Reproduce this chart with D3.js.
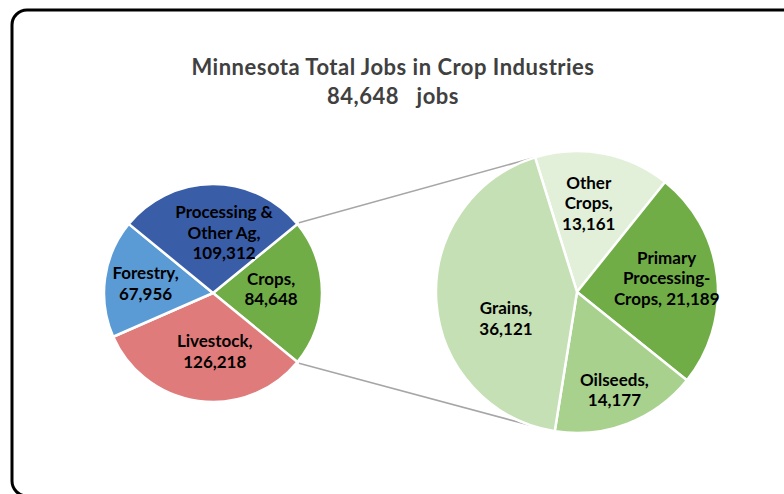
<!DOCTYPE html>
<html>
<head>
<meta charset="utf-8">
<script src="https://cdn.jsdelivr.net/npm/d3@7/dist/d3.min.js"></script>
<style>
  html, body { margin: 0; padding: 0; background: #fff; }
  svg { display: block; }
  text { font-family: Lato, "Open Sans", sans-serif; }
</style>
</head>
<body>
<svg id="chart" width="784" height="494"></svg>
<script>
// ---- Data ----
const titleLine1 = "Minnesota Total Jobs in Crop Industries";
const titleLine2 = "84,648   jobs";

// main pie, clockwise from the "Crops" slice
const mainCategories = ["Crops", "Livestock", "Forestry", "Processing & Other Ag"];
const mainValues = [84648, 126218, 67956, 109312];
const mainColors = ["#70AD47", "#E07B7B", "#5B9BD5", "#3A5DA8"];
const mainLabelNames = ["Crops", "Livestock", "Forestry", "Processing &|Other Ag"];

// secondary pie (breakdown of Crops), clockwise
const subCategories = ["Other Crops", "Primary Processing-Crops", "Oilseeds", "Grains"];
const subValues = [13161, 21189, 14177, 36121];
const subColors = ["#E2F0D9", "#70AD47", "#A9D18E", "#C5E0B4"];
const subLabelNames = ["Other|Crops", "Primary|Processing-|Crops", "Oilseeds", "Grains"];
const subValueInline = [false, true, false, false];

// ---- Layout (label nudges from the slice centroid, px) ----
const mainLabelNudge = [[-3, -4], [10, -2], [-7, -1], [11, 1]];
const subLabelNudge = [[-5, 0], [0, -4], [5, 14], [19, 20]];

const svg = d3.select("#chart");
const fmt = d3.format(",");
const rad = d => d * Math.PI / 180;

svg.append("rect")
  .attr("x", 12).attr("y", 10)
  .attr("width", 800).attr("height", 486)
  .attr("rx", 15).attr("ry", 15)
  .attr("fill", "#fff").attr("stroke", "#000").attr("stroke-width", 3);

[[titleLine1, 75], [titleLine2, 104]].forEach(([s, y]) => {
  svg.append("text").attr("x", 393).attr("y", y)
    .attr("text-anchor", "middle").attr("font-size", 22).attr("font-weight", "bold")
    .attr("letter-spacing", 0.5)
    .attr("fill", "#404040").style("white-space", "pre")
    .text(s);
});

const c1 = { x: 213, y: 293, r: 109 };
const c2 = { x: 577, y: 292, r: 141 };

const mainTotal = d3.sum(mainValues);
const cropsSpan = mainValues[0] / mainTotal * 2 * Math.PI;
const mainStart = Math.PI / 2 - cropsSpan / 2;
const mainPie = d3.pie().sort(null).value(d => d.v)
  .startAngle(mainStart).endAngle(mainStart + 2 * Math.PI);
const mainArcs = mainPie(mainValues.map((v, i) => ({ v, i })));

const subStart = rad(-17.3);
const subPie = d3.pie().sort(null).value(d => d.v)
  .startAngle(subStart).endAngle(subStart + 2 * Math.PI);
const subArcs = subPie(subValues.map((v, i) => ({ v, i })));

// connector lines
const pt = (c, a, r) => [c.x + r * Math.sin(a), c.y - r * Math.cos(a)];
const cropArc = mainArcs[0];
const conn = [
  [pt(c1, cropArc.startAngle, c1.r + 2), pt(c2, subStart, c2.r)],
  [pt(c1, cropArc.endAngle, c1.r + 2), pt(c2, Math.PI - subStart, c2.r)]
];
svg.append("g").selectAll("line").data(conn).join("line")
  .attr("x1", d => d[0][0]).attr("y1", d => d[0][1])
  .attr("x2", d => d[1][0]).attr("y2", d => d[1][1])
  .attr("stroke", "#A6A6A6").attr("stroke-width", 1.5);

function drawPie(c, arcs, colors, names, valueInline, labelRatio, nudge) {
  const arc = d3.arc().innerRadius(0).outerRadius(c.r);
  const g = svg.append("g").attr("transform", `translate(${c.x},${c.y})`);
  g.selectAll("path").data(arcs).join("path")
    .attr("d", arc)
    .attr("fill", d => colors[d.data.i])
    .attr("stroke", "#fff").attr("stroke-width", 2.5).attr("stroke-linejoin", "round");
  const lab = d3.arc().innerRadius(c.r * labelRatio).outerRadius(c.r * labelRatio);
  const lh = 20.5;
  arcs.forEach(d => {
    const i = d.data.i;
    const parts = names[i].split("|");
    const last = parts.pop();
    const lines = valueInline[i]
      ? [...parts, `${last}, ${fmt(d.data.v)}`]
      : [...parts, `${last},`, fmt(d.data.v)];
    const [cx, cy] = lab.centroid(d);
    const lx = cx + nudge[i][0], ly = cy + nudge[i][1];
    const t = g.append("text").attr("text-anchor", "middle")
      .attr("font-size", 17).attr("font-weight", "bold").attr("fill", "#000");
    lines.forEach((s, k) => {
      t.append("tspan").attr("x", lx)
        .attr("y", ly + (k - (lines.length - 1) / 2) * lh)
        .attr("dy", "0.35em").text(s);
    });
  });
}

drawPie(c1, mainArcs, mainColors, mainLabelNames, [false, false, false, false], 0.56, mainLabelNudge);
drawPie(c2, subArcs, subColors, subLabelNames, subValueInline, 0.64, subLabelNudge);
</script>
</body>
</html>
